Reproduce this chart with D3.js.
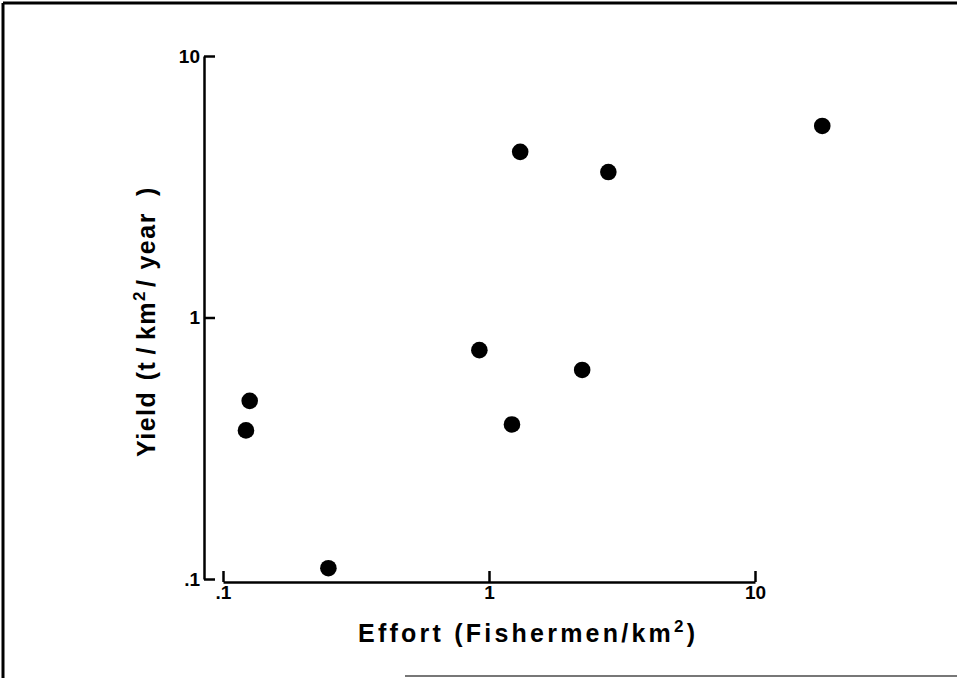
<!DOCTYPE html>
<html>
<head>
<meta charset="utf-8">
<script src="https://cdn.jsdelivr.net/npm/d3@7"></script>
<style>
  html, body { margin: 0; padding: 0; background: #fff; }
  svg { display: block; }
</style>
</head>
<body>
<svg id="chart" width="957" height="678"></svg>
<script>
// ---- data ----
const effort = [0.126, 0.122, 0.249, 0.92, 1.22, 1.31, 2.24, 2.81, 17.9];
const yieldVals = [0.48, 0.37, 0.11, 0.75, 0.39, 4.3, 0.63, 3.6, 5.4];
const tickValues = [0.1, 1, 10];
const tickLabels = [".1", "1", "10"];

const svg = d3.select("#chart");

// frame
svg.append("line").attr("x1", 3).attr("y1", 3).attr("x2", 957).attr("y2", 3)
  .attr("stroke", "#000").attr("stroke-width", 3);
svg.append("line").attr("x1", 3).attr("y1", 3).attr("x2", 3).attr("y2", 678)
  .attr("stroke", "#000").attr("stroke-width", 3);
svg.append("line").attr("x1", 405).attr("y1", 676).attr("x2", 957).attr("y2", 676)
  .attr("stroke", "#777").attr("stroke-width", 2);

const x = d3.scaleLog().domain([0.1, 10]).range([223, 755]);
const y = d3.scaleLog().domain([0.1, 10]).range([579, 56]);
const fmt = v => tickLabels[tickValues.indexOf(v)];

const font = "'Liberation Sans', Arial, sans-serif";

// x axis
const xAxis = svg.append("g").attr("transform", "translate(0,582)")
  .call(d3.axisBottom(x).tickValues(tickValues).tickFormat(fmt)
    .tickSizeInner(-11).tickSizeOuter(0).tickPadding(4));
xAxis.select(".domain").attr("stroke-width", 2.5);
xAxis.selectAll(".tick line").attr("stroke-width", 2.5);
xAxis.selectAll("text").attr("font-family", font).attr("font-size", 19)
  .attr("font-weight", "bold").attr("fill", "#000");

// y axis
const yAxis = svg.append("g").attr("transform", "translate(204,0)")
  .call(d3.axisLeft(y).tickValues(tickValues).tickFormat(fmt)
    .tickSizeInner(-11).tickSizeOuter(0).tickPadding(4));
yAxis.select(".domain").attr("stroke-width", 2.5);
yAxis.selectAll(".tick line").attr("stroke-width", 2.5);
yAxis.selectAll("text").attr("font-family", font).attr("font-size", 19)
  .attr("font-weight", "bold").attr("fill", "#000");

// points
svg.append("g").selectAll("circle")
  .data(effort.map((e, i) => [e, yieldVals[i]]))
  .join("circle")
  .attr("cx", d => x(d[0]))
  .attr("cy", d => y(d[1]))
  .attr("r", 8.3)
  .attr("fill", "#000");

// titles
const xt = svg.append("text")
  .attr("x", 358).attr("y", 642)
  .attr("font-family", font).attr("font-weight", "bold").attr("font-size", 25)
  .attr("textLength", 337).attr("lengthAdjust", "spacing");
xt.append("tspan").text("Effort (Fishermen/km");
xt.append("tspan").attr("dy", -10).attr("font-size", 17).text("2");
xt.append("tspan").attr("dy", 10).text(")");

const yt = svg.append("text")
  .attr("transform", "translate(155,457) rotate(-90)")
  .attr("font-family", font).attr("font-weight", "bold").attr("font-size", 25)
  .attr("letter-spacing", 1.5)
  .attr("xml:space", "preserve");
yt.append("tspan").text("Yield");
yt.append("tspan").attr("dx", 2).text(" (t");
yt.append("tspan").attr("dx", 6).text("/");
yt.append("tspan").attr("dx", 6).text("km");
yt.append("tspan").attr("dy", -10).attr("font-size", 17).text("2");
yt.append("tspan").attr("dy", 10).attr("dx", 3).text("/");
yt.append("tspan").attr("dx", 9).text("year");
yt.append("tspan").attr("dx", 16).text(")");
</script>
</body>
</html>
